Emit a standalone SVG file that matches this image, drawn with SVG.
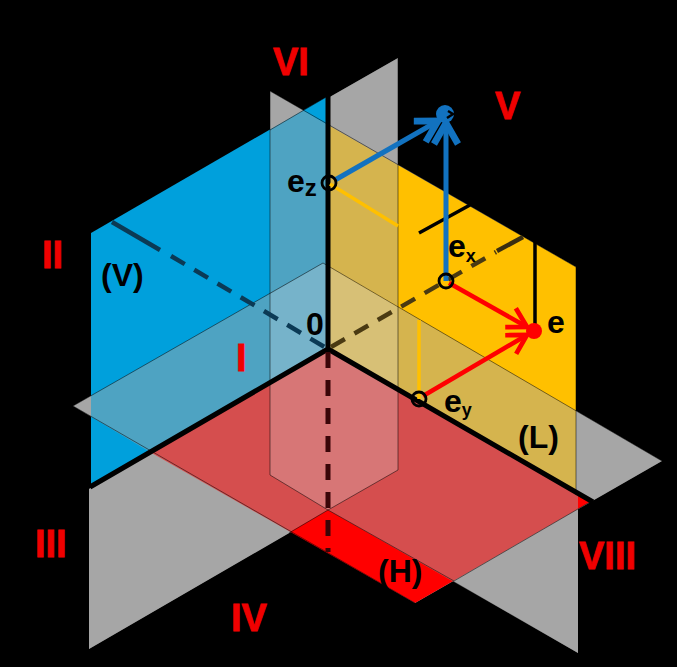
<svg xmlns="http://www.w3.org/2000/svg" width="677" height="667" viewBox="0 0 677 667">
<defs>
<marker id="ar" viewBox="0 0 20 20" refX="17" refY="10" markerWidth="6" markerHeight="6" markerUnits="strokeWidth" orient="auto"><path d="M3 2 L17 10 L3 18" fill="none" stroke="#ff0000" stroke-width="3.5"/></marker>
<marker id="ab" viewBox="0 0 20 20" refX="17" refY="10" markerWidth="6" markerHeight="6" markerUnits="strokeWidth" orient="auto"><path d="M3 2 L17 10 L3 18" fill="none" stroke="#1272c0" stroke-width="4.5"/></marker>
</defs>
<style>
.gray{fill:#a6a6a6}
.tint{fill:#a6a6a6;fill-opacity:.47}
.thin{fill:none;stroke:#000;stroke-opacity:.5;stroke-width:1}
.axis{fill:none;stroke:#000;stroke-width:5}
.t{font-family:"Liberation Sans",Arial,sans-serif;font-weight:bold}
.red{fill:#f00000;font-size:38px;stroke:#f00000;stroke-width:.8}
.blk{fill:#000;font-size:32px}
.sub{font-size:18px}
.ring{fill:none;stroke:#000;stroke-width:2.8}
</style>
<rect width="677" height="667" fill="#000"/>
<g id="plane-base">
<polygon class="gray" points="89,489 398,311 398,58 328,98 328,349 89,489 89,649 398,470 398,311"/>
<polygon class="gray" points="270,91 576,267 576,497 578,498 578,653 270,475"/>
<polygon class="gray" points="73,406 323,263 662,461 415,603"/>
</g>
<g id="plane-V"><polygon fill="#00a0dc" points="91,233 328,96 328,349 91,486"/></g>
<g id="plane-L"><polygon fill="#ffc000" points="328,125 576,267 576,494 328,349"/></g>
<g id="plane-H"><polygon fill="#ff0000" points="150,452 328,349 590,502 415,603"/></g>
<g id="overlays">
<polygon class="tint" points="270,91 328,125 328,266 323,263 270,294"/>
<polygon class="tint" points="398,58 328,98 328,266 398,306"/>
<polygon class="tint" points="73,406 323,263 662,461 590,502 328,349 150,452"/>
<polygon class="tint" points="89,489 328,349 578,495 578,653 328,510 89,649"/>
<polygon fill="#ddd" fill-opacity=".28" points="270,294 323,263 398,306 398,470 328,510 270,475"/>
</g>
<g id="connectors">
<path class="thin" d="M270 91V475L328 510L398 470V58M270 91L576 267M270 130L328 96M73 406L323 263L662 461M73 406L415 603M454 581L590 502M289 533L328 510L454 581M576 267V495"/>
<path class="axis" d="M328 96V349M90 487L328 349L593 502"/>
<path fill="none" stroke="#3a0508" stroke-width="5" stroke-dasharray="16 12" d="M328 352V552"/>
<path fill="none" stroke="#0b3a55" stroke-width="4.5" d="M112 222L160 250"/>
<path fill="none" stroke="#0b3a55" stroke-width="4.5" stroke-dasharray="16 11" d="M171 256L328 349"/>
<path fill="none" stroke="#4a3a12" stroke-width="4.5" stroke-dasharray="16 11" d="M331 347L496 252"/>
<path fill="none" stroke="#3a2e10" stroke-width="4.5" d="M497 251L523 237"/>
<path fill="none" stroke="#000" stroke-width="3.5" d="M419 233L470 205M535 239V328"/>
<path fill="none" stroke="#ffc000" stroke-width="3.5" d="M330 184L398 226M419 320V399"/>
<path fill="none" stroke="#1272c0" stroke-width="5" marker-end="url(#ab)" d="M335 180L438 121"/>
<path fill="none" stroke="#1272c0" stroke-width="5" marker-end="url(#ab)" d="M446 281V123"/>
<path fill="none" stroke="#ff0000" stroke-width="4.5" marker-end="url(#ar)" d="M449 283L527 327"/>
<path fill="none" stroke="#ff0000" stroke-width="4.5" marker-end="url(#ar)" d="M423 396L527 335"/>
</g>
<g id="point-c"><circle cx="445" cy="114" r="9" fill="#1272c0"/><path d="M448 111L453 114L447 118" fill="none" stroke="#000" stroke-width="2.5"/></g>
<g id="point-ez"><circle class="ring" cx="329" cy="183" r="7"/><text class="t blk" x="287" y="192">e<tspan dy="4" style="font-size:24px">z</tspan></text></g>
<g id="point-ex"><circle class="ring" cx="446" cy="281" r="7"/><text class="t blk" x="448" y="257">e<tspan class="sub" dy="5">x</tspan></text></g>
<g id="point-ey"><circle class="ring" cx="419" cy="399" r="7"/><text class="t blk" x="444" y="412">e<tspan class="sub" dy="4">y</tspan></text></g>
<g id="point-e"><circle cx="534" cy="331" r="8" fill="#f00"/><text class="t blk" x="547" y="333">e</text></g>
<g id="labels">
<text class="t blk" x="306" y="335">0</text>
<text class="t blk" x="101" y="286">(V)</text>
<text class="t blk" x="518" y="448">(L)</text>
<text class="t blk" x="378" y="582">(H)</text>
<text class="t red" x="236" y="371">I</text>
<text class="t red" x="42" y="268">II</text>
<text class="t red" x="35" y="557">III</text>
<text class="t red" x="231" y="631">IV</text>
<text class="t red" x="495" y="119">V</text>
<text class="t red" x="273" y="75">VI</text>
<text class="t red" x="579" y="569">VIII</text>
</g>
</svg>
